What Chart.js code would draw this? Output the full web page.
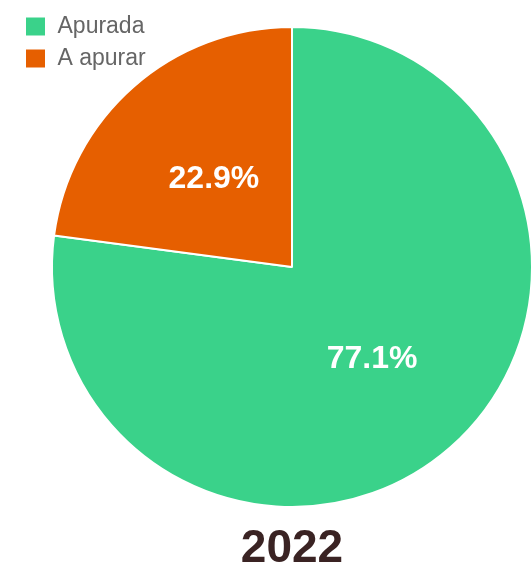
<!DOCTYPE html>
<html lang="pt">
<head>
  <meta charset="UTF-8">
  <title>2022</title>
  <script src="https://cdn.jsdelivr.net/npm/chart.js"></script>
  <style>
    html, body { margin: 0; padding: 0; background: #fff; overflow: hidden; width: 531px; height: 572px; }
    #wrap { position: absolute; left: 16px; top: 6px; width: 552px; height: 566px; }
  </style>
</head>
<body>
  <div id="wrap"><canvas id="pieChart" width="552" height="566"></canvas></div>

  <script>
    const labels = ['Apurada', 'A apurar'];
    const values = [77.1, 22.9];
    const colors = ['#3ad28a', '#e65f00'];
    const year = '2022';

    // white percent text in the middle of each slice
    const sliceLabels = {
      id: 'sliceLabels',
      afterDatasetsDraw(chart) {
        const ctx = chart.ctx;
        const meta = chart.getDatasetMeta(0);
        ctx.save();
        ctx.fillStyle = '#fff';
        ctx.font = 'bold 32px "Liberation Sans", Arial, sans-serif';
        ctx.textAlign = 'center';
        ctx.textBaseline = 'middle';
        meta.data.forEach((arc, i) => {
          const p = arc.tooltipPosition();
          ctx.fillText(values[i].toFixed(1) + '%', p.x + 1, p.y + 2);
        });
        ctx.restore();
      }
    };

    new Chart(document.getElementById('pieChart'), {
      type: 'pie',
      data: {
        labels: labels,
        datasets: [{
          data: values,
          backgroundColor: colors,
          borderColor: '#fff',
          borderWidth: 2
        }]
      },
      options: {
        responsive: false,
        animation: false,
        radius: 240,
        layout: { padding: { top: 8, left: 0, right: 0, bottom: 0 } },
        plugins: {
          tooltip: { enabled: false },
          legend: {
            position: 'chartArea',
            align: 'start',
            labels: {
              boxWidth: 21,
              boxHeight: 20,
              padding: 9,
              color: '#666',
              font: { size: 23, family: '"Liberation Sans", Arial, sans-serif' }
            }
          },
          title: {
            display: true,
            position: 'bottom',
            text: year,
            color: '#3a2323',
            padding: { top: 6, bottom: 0 },
            font: { size: 46, weight: 'bold', lineHeight: 1, family: '"Liberation Sans", Arial, sans-serif' }
          }
        }
      },
      plugins: [sliceLabels]
    });
  </script>
</body>
</html>
